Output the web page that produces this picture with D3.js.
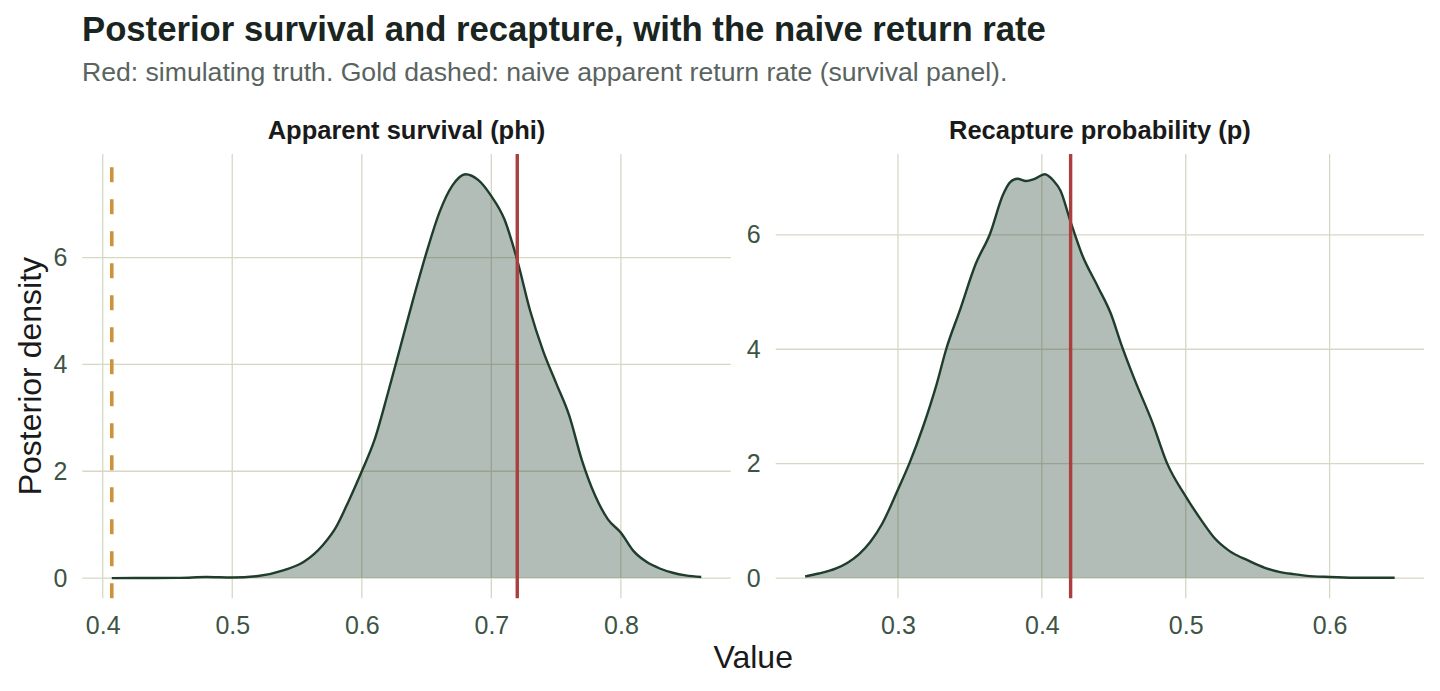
<!DOCTYPE html>
<html>
<head>
<meta charset="utf-8">
<script src="https://cdn.jsdelivr.net/npm/d3@7"></script>
<style>
  body { margin: 0; background: #fff; }
  svg { display: block; font-family: "Liberation Sans", Arial, sans-serif; }
</style>
</head>
<body>
<svg width="1440" height="691"></svg>
<script>
// posterior density of apparent survival (phi)
var phiX = [0.407, 0.44, 0.46, 0.48, 0.50, 0.52, 0.54, 0.555, 0.57, 0.58, 0.59, 0.60, 0.61, 0.62, 0.63, 0.64,
  0.65, 0.66, 0.67, 0.68, 0.69, 0.70, 0.71, 0.72, 0.73, 0.74, 0.75, 0.76, 0.77, 0.78, 0.79, 0.80, 0.81,
  0.82, 0.83, 0.84, 0.85, 0.862];
var phiY = [0.0, 0.002, 0.005, 0.02, 0.01, 0.04, 0.15, 0.30, 0.62, 0.95, 1.45, 2.0, 2.6, 3.45, 4.35, 5.25,
  6.1, 6.85, 7.35, 7.56, 7.45, 7.15, 6.72, 5.95, 5.0, 4.25, 3.65, 3.05, 2.2, 1.55, 1.1, 0.85, 0.5,
  0.3, 0.18, 0.1, 0.05, 0.02];

// posterior density of recapture probability (p)
var pX = [0.2355, 0.245, 0.257, 0.265, 0.273, 0.281, 0.289, 0.30, 0.308, 0.3175, 0.327, 0.3335, 0.343, 0.354,
  0.364, 0.373, 0.378, 0.383, 0.389, 0.395, 0.402, 0.408, 0.413, 0.4197, 0.4277, 0.439, 0.448, 0.455,
  0.464, 0.477, 0.487, 0.50, 0.512, 0.52, 0.53, 0.544, 0.555, 0.565, 0.575, 0.589, 0.60, 0.62, 0.6452];
var pY = [0.03, 0.08, 0.17, 0.27, 0.42, 0.64, 0.95, 1.55, 2.01, 2.65, 3.40, 4.0, 4.68, 5.49,
  6.02, 6.70, 6.92, 6.98, 6.94, 6.98, 7.06, 6.95, 6.77, 6.25, 5.67, 5.09, 4.62, 4.10,
  3.50, 2.71, 2.01, 1.43, 0.97, 0.70, 0.48, 0.30, 0.18, 0.11, 0.07, 0.03, 0.02, 0.005, 0.005];

var panelTitles = ["Apparent survival (phi)", "Recapture probability (p)"];
var truthValues = [0.72, 0.42];
var naiveRate = 0.407;
var xTicks = [[0.4, 0.5, 0.6, 0.7, 0.8], [0.3, 0.4, 0.5, 0.6]];
var yTicks = [[0, 2, 4, 6], [0, 2, 4, 6]];

var svg = d3.select("svg");
var panelW = 648.4, panelTop = 154, panelBottom = 598.3;
var panelLeft = [82.3, 775.7];

var gridCol = "#d7d7c4", lineCol = "#1f3d2b", tickCol = "#3c5444";

svg.append("text").attr("x", 82).attr("y", 41)
  .style("font-size", "34.7px").style("font-weight", "bold").attr("fill", "#1a2420")
  .text("Posterior survival and recapture, with the naive return rate");
svg.append("text").attr("x", 82).attr("y", 81)
  .style("font-size", "26.6px").attr("fill", "#596460")
  .text("Red: simulating truth. Gold dashed: naive apparent return rate (survival panel).");

var series = [phiX.map(function(x, i) { return {x: x, y: phiY[i]}; }),
              pX.map(function(x, i) { return {x: x, y: pY[i]}; })];

series.forEach(function(data, k) {
  var x0 = panelLeft[k];
  var xe = d3.extent(data, function(d) { return d.x; });
  var pad = (xe[1] - xe[0]) * 0.05;
  var x = d3.scaleLinear().domain([xe[0] - pad, xe[1] + pad]).range([x0, x0 + panelW]);
  var ym = d3.max(data, function(d) { return d.y; });
  var y = d3.scaleLinear().domain([-0.05 * ym, 1.05 * ym]).range([panelBottom, panelTop]);

  var g = svg.append("g");
  g.selectAll(".vg").data(xTicks[k]).enter().append("line")
    .attr("x1", x).attr("x2", x).attr("y1", panelTop).attr("y2", panelBottom)
    .attr("stroke", gridCol).attr("stroke-width", 1.3);
  g.selectAll(".hg").data(yTicks[k]).enter().append("line")
    .attr("x1", x0).attr("x2", x0 + panelW).attr("y1", y).attr("y2", y)
    .attr("stroke", gridCol).attr("stroke-width", 1.3);

  var area = d3.area().x(function(d) { return x(d.x); })
    .y0(y(0)).y1(function(d) { return y(d.y); }).curve(d3.curveMonotoneX);
  var line = d3.line().x(function(d) { return x(d.x); })
    .y(function(d) { return y(d.y); }).curve(d3.curveMonotoneX);
  g.append("path").datum(data).attr("d", area)
    .attr("fill", lineCol).attr("fill-opacity", 0.34);
  g.append("path").datum(data).attr("d", line)
    .attr("fill", "none").attr("stroke", lineCol).attr("stroke-width", 2.4);

  if (k === 0) {
    g.append("line").attr("x1", x(naiveRate)).attr("x2", x(naiveRate))
      .attr("y1", panelBottom).attr("y2", panelTop)
      .attr("stroke", "#c9943a").attr("stroke-width", 3.6).attr("stroke-dasharray", "15,17");
  }
  g.append("line").attr("x1", x(truthValues[k])).attr("x2", x(truthValues[k]))
    .attr("y1", panelTop).attr("y2", panelBottom)
    .attr("stroke", "#ab3e3e").attr("stroke-width", 3.4);

  var xa = svg.append("g").attr("transform", "translate(0," + panelBottom + ")")
    .call(d3.axisBottom(x).tickValues(xTicks[k]).tickSize(0).tickPadding(18).tickFormat(d3.format(".1f")));
  var ya = svg.append("g").attr("transform", "translate(" + x0 + ",0)")
    .call(d3.axisLeft(y).tickValues(yTicks[k]).tickSize(0).tickPadding(15).tickFormat(d3.format("d")));
  [xa, ya].forEach(function(a) {
    a.select(".domain").remove();
    a.selectAll("text").attr("fill", tickCol).style("font-size", "25px")
      .style("font-family", "Liberation Sans, Arial, sans-serif");
  });

  svg.append("text").attr("x", x0 + panelW / 2).attr("y", 139)
    .attr("text-anchor", "middle").style("font-size", "25.5px").style("font-weight", "bold")
    .attr("fill", "#1a1a1a").text(panelTitles[k]);
});

svg.append("text").attr("x", (panelLeft[0] + panelLeft[1] + panelW) / 2).attr("y", 668)
  .attr("text-anchor", "middle").style("font-size", "32px").attr("fill", "#1a1a1a").text("Value");
svg.append("text").attr("transform", "translate(41," + (panelTop + panelBottom) / 2 + ") rotate(-90)")
  .attr("text-anchor", "middle").style("font-size", "32px").attr("fill", "#1a1a1a").text("Posterior density");
</script>
</body>
</html>
